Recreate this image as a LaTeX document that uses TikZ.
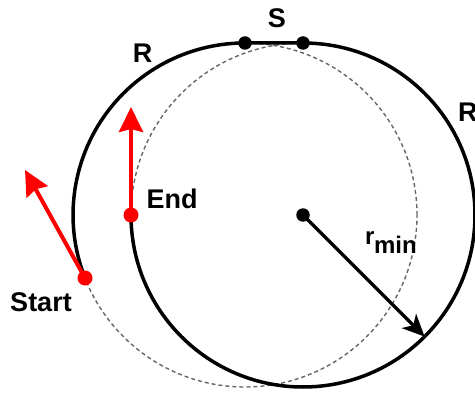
\documentclass[tikz,border=0pt]{standalone}
\usepackage{fontspec}
\setmainfont{Liberation Sans}
\usetikzlibrary{arrows.meta}
\begin{document}
\begin{tikzpicture}[x=1pt,y=1pt,
  lbl/.style={font=\fontsize{27}{30}\selectfont\bfseries, inner sep=0pt},
  guide/.style={draw=black!60, line width=1.4pt, dash pattern=on 4pt off 3pt},
  pathline/.style={draw=black, line width=3.5pt},
  blackdot/.style={circle, fill=black, minimum size=13.5pt, inner sep=0pt},
  reddot/.style={circle, fill=red, minimum size=15pt, inner sep=0pt},
  headvec/.style={draw=red, line width=4pt, -{Stealth[length=25pt,width=24pt,inset=3pt]}},
  radvec/.style={draw=black, line width=3.5pt, -{Stealth[length=22pt,width=20pt,inset=6pt]}}
]
\useasboundingbox (0,0) rectangle (475,392);
\coordinate (c1) at (245,177);
\coordinate (c2) at (303,177);
\coordinate (t1) at (245,349);
\coordinate (t2) at (303,349);
\coordinate (st) at (85.0,114.0);
\coordinate (en) at (131,177);
\coordinate (starttip) at (25,222);
\coordinate (endtip) at (131,285);
\coordinate (radtip) at (424.6,55.4);
% dashed completions
\draw[guide] (c1) circle[radius=172];
\draw[guide] (c2) circle[radius=172];
% solid path
\draw[pathline] (st) arc[start angle=201.5, end angle=90, radius=172] -- (t2)
  arc[start angle=90, end angle=-180, radius=172];
% radius arrow
\node[blackdot] (cdot) at (c2) {};
\draw[radvec] (cdot.center) -- (radtip);
% tangent points
\node[blackdot] (s1) at (t1) {};
\node[blackdot] (s2) at (t2) {};
% heading arrows
\draw[headvec] (st) -- (starttip);
\draw[headvec] (en) -- (endtip);
\node[reddot] (sdot) at (st) {};
\node[reddot] (edot) at (en) {};
% labels
\node[lbl, anchor=base] (rl) at (142.5,330) {R};
\node[lbl, anchor=base] (sl) at (277,364) {S};
\node[lbl, anchor=base west] (rr) at (458,270) {R};
\node[lbl, anchor=base] (el) at (172,184) {End};
\node[lbl, anchor=base] (stl) at (41,81) {Start};
\node[font=\fontsize{24}{28}\selectfont\bfseries, inner sep=0pt, anchor=base west] (rm) at (365,147) {r\kern-0.5pt\raisebox{-8pt}{min}};
\end{tikzpicture}
\end{document}
